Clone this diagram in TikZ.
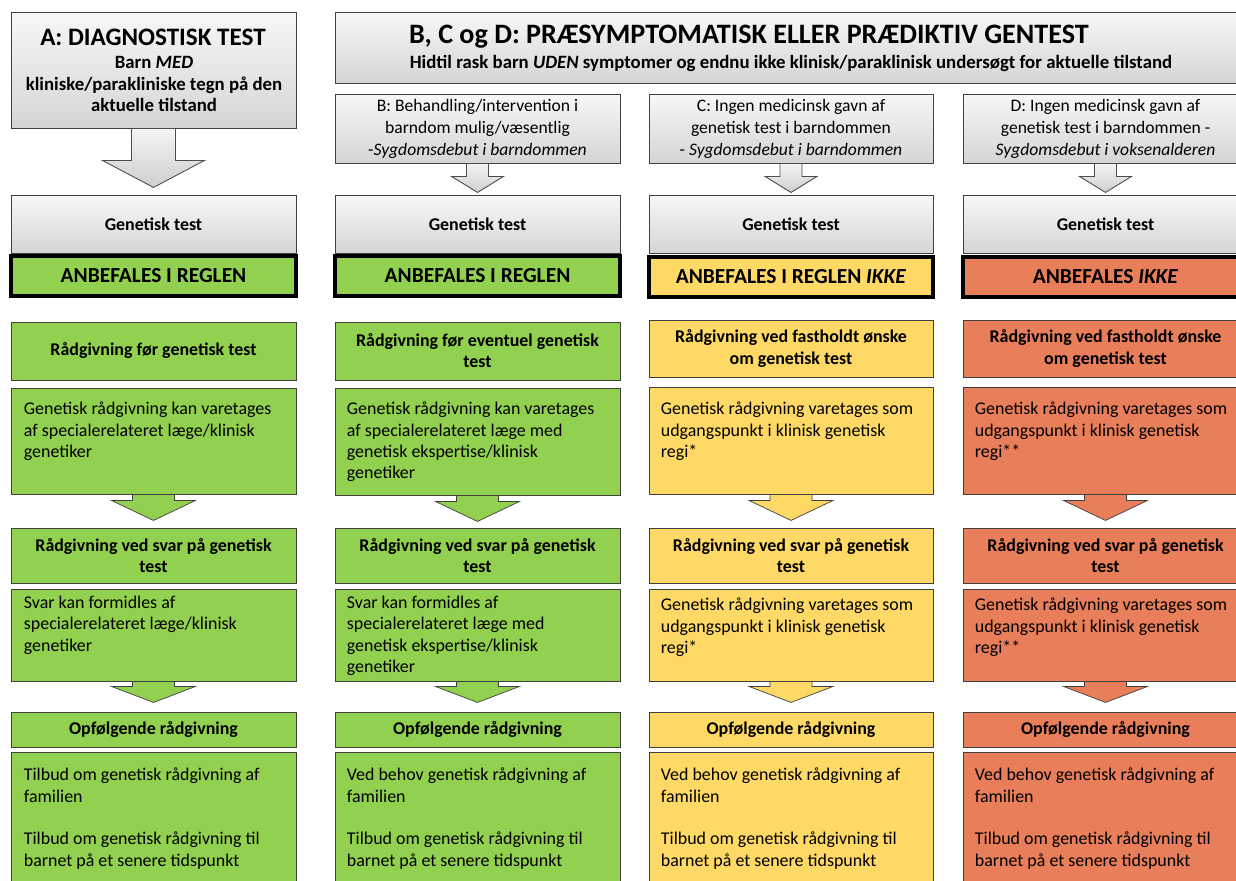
\documentclass[tikz,border=0pt]{standalone}
\usepackage{fontspec}
\setmainfont{Carlito}
\usetikzlibrary{fit,calc}

\definecolor{okgreen}{HTML}{92D050}
\definecolor{midyellow}{HTML}{FFD966}
\definecolor{nored}{HTML}{E97E5B}
\definecolor{edge}{HTML}{404040}

% down block arrow: style, top point, half shaft, shaft length, half head, head length
\newcommand{\blockarrow}[6]{%
  \draw[#1] (#2) ++(-#3,0) -- ++(0,#4) -- ++({#3-#5},0) -- ++(#5,#6)
    -- ++(#5,-#6) -- ++({#3-#5},0) -- ++(0,-#4) -- cycle;}

\begin{document}
\begin{tikzpicture}[x=0.2mm, y=-0.2mm,
  graybox/.style={draw=edge, line width=0.5pt, top color=gray!6, bottom color=gray!33, inner sep=0pt},
  cell/.style={draw=edge, line width=0.5pt, inner sep=0pt},
  recbox/.style={draw=black, line width=2pt, inner sep=0pt},
  rectxt/.style={font=\fontsize{12.2}{14}\selectfont\bfseries},
  titletxt/.style={inner sep=0pt, font=\fontsize{#1}{18}\selectfont\bfseries},
  introtxt/.style={inner sep=0pt, align=center, font=\fontsize{10.7}{12.5}\selectfont\bfseries},
  leadtxt/.style={inner sep=0pt, font=\fontsize{10.7}{12.5}\selectfont\bfseries},
  casetxt/.style={align=center, font=\fontsize{10}{12.5}\selectfont},
  hdrtxt/.style={align=center, font=\fontsize{10.2}{12}\selectfont\bfseries},
  bodytxt/.style={anchor=north west, inner sep=0pt, align=left, font=\fontsize{10.2}{12.2}\selectfont},
  grayarrow/.style={draw=gray!60!black, line width=0.5pt, top color=gray!8, bottom color=gray!38},
  colarrow/.style={draw=edge, line width=0.4pt, fill=#1},
]
  \useasboundingbox (0,0) rectangle (1236,880);
  \clip (0,0) rectangle (1236,880);
  \fill[white] (0,0) rectangle (1236,880);

  % A: diagnostic test
  \node[graybox, fit={(11,12)(296,128)}] (topA) {};
  \node[titletxt=14.3] (topA-t) at (153,37) {A: DIAGNOSTISK TEST};
  \node[introtxt] (topA-s) at (154,84) {Barn \textit{MED}\\kliniske/parakliniske tegn på den\\aktuelle tilstand};
  \blockarrow{grayarrow}{topA.south}{22}{32}{51}{27}

  % B, C, D: presymptomatic test
  \node[graybox, fit={(335,12)(1248,83)}] (topBCD) {};
  \node[titletxt=16] (topBCD-t) at (749,37) {B, C og D: PRÆSYMPTOMATISK ELLER PRÆDIKTIV GENTEST};
  \node[leadtxt] (topBCD-s) at (791,63) {Hidtil rask barn \textit{UDEN} symptomer og endnu ikke klinisk/paraklinisk undersøgt for aktuelle tilstand};

  \node[graybox, fit={(335,94)(620,163)}, label={[casetxt]center:{B: Behandling/intervention i\\barndom mulig/væsentlig\\-\textit{Sygdomsdebut i barndommen}}}] (subB) {};
  \node[graybox, fit={(649,94)(933,163)}, label={[casetxt]center:{C: Ingen medicinsk gavn af\\genetisk test i barndommen\\- \textit{Sygdomsdebut i barndommen}}}] (subC) {};
  \node[graybox, fit={(963,94)(1248,163)}, label={[casetxt]center:{D: Ingen medicinsk gavn af\\genetisk test i barndommen -\\\textit{Sygdomsdebut i voksenalderen}}}] (subD) {};
  \foreach \c in {B,C,D} {
    \blockarrow{grayarrow}{sub\c.south}{11}{13}{26}{16}
  }

  % Genetisk test, same in all columns
  \foreach \c/\xl/\xr in {A/11/296, B/335/620, C/649/933, D/963/1248} {
    \node[graybox, fit={(\xl,195)(\xr,253)}, label={[hdrtxt]center:Genetisk test}] (gt\c) {};
  }

  % Recommendation
  \node[recbox, fill=okgreen, fit={(11,256)(296,296)}, label={[rectxt]center:ANBEFALES I REGLEN}] (recA) {};
  \node[recbox, fill=okgreen, fit={(335,256)(620,296)}, label={[rectxt]center:ANBEFALES I REGLEN}] (recB) {};
  \node[recbox, fill=midyellow, fit={(649,257)(933,297)}, label={[rectxt]center:{ANBEFALES I REGLEN \textit{IKKE}}}] (recC) {};
  \node[recbox, fill=nored, fit={(963,257)(1248,297)}, label={[rectxt]center:{ANBEFALES \textit{IKKE}}}] (recD) {};

  % Counselling before the test
  \node[cell, fill=okgreen, fit={(11,322)(296,380)}, label={[hdrtxt]center:Rådgivning før genetisk test}] (h1A) {};
  \node[cell, fill=okgreen, fit={(335,322)(620,380)}, label={[hdrtxt]center:{Rådgivning før eventuel genetisk\\test}}] (h1B) {};
  \node[cell, fill=midyellow, fit={(649,320)(933,377)}, label={[hdrtxt]center:{Rådgivning ved fastholdt ønske\\om genetisk test}}] (h1C) {};
  \node[cell, fill=nored, fit={(963,320)(1248,377)}, label={[hdrtxt]center:{Rådgivning ved fastholdt ønske\\om genetisk test}}] (h1D) {};

  \node[cell, fill=okgreen, fit={(11,388)(296,494)}] (b1A) {};
  \node[cell, fill=okgreen, fit={(335,388)(620,495)}] (b1B) {};
  \node[cell, fill=midyellow, fit={(649,387)(933,494)}] (b1C) {};
  \node[cell, fill=nored, fit={(963,387)(1248,494)}] (b1D) {};
  \node[bodytxt] (b1A-t) at ($(b1A.north west)+(13,14)$) {Genetisk rådgivning kan varetages\\af specialerelateret læge/klinisk\\genetiker};
  \node[bodytxt] (b1B-t) at ($(b1B.north west)+(12,14)$) {Genetisk rådgivning kan varetages\\af specialerelateret læge med\\genetisk ekspertise/klinisk\\genetiker};
  \node[bodytxt] (b1C-t) at ($(b1C.north west)+(12,15)$) {Genetisk rådgivning varetages som\\udgangspunkt i klinisk genetisk\\regi*};
  \node[bodytxt] (b1D-t) at ($(b1D.north west)+(12,15)$) {Genetisk rådgivning varetages som\\udgangspunkt i klinisk genetisk\\regi**};
  \foreach \c/\col in {A/okgreen, B/okgreen, C/midyellow, D/nored} {
    \blockarrow{colarrow=\col}{b1\c.south}{21}{6}{42}{20}
  }

  % Counselling on the answer
  \foreach \c/\xl/\xr/\col in {A/11/296/okgreen, B/335/620/okgreen, C/649/933/midyellow, D/963/1248/nored} {
    \node[cell, fill=\col, fit={(\xl,528)(\xr,583)}, label={[hdrtxt]center:{Rådgivning ved svar på genetisk\\test}}] (h2\c) {};
  }

  \node[cell, fill=okgreen, fit={(11,589)(296,681)}] (b2A) {};
  \node[cell, fill=okgreen, fit={(335,589)(620,681)}] (b2B) {};
  \node[cell, fill=midyellow, fit={(649,589)(933,681)}] (b2C) {};
  \node[cell, fill=nored, fit={(963,589)(1248,681)}] (b2D) {};
  \node[bodytxt] (b2A-t) at ($(b2A.north west)+(13,7)$) {Svar kan formidles af\\specialerelateret læge/klinisk\\genetiker};
  \node[bodytxt] (b2B-t) at ($(b2B.north west)+(12,7)$) {Svar kan formidles af\\specialerelateret læge med\\genetisk ekspertise/klinisk\\genetiker};
  \node[bodytxt] (b2C-t) at ($(b2C.north west)+(12,9)$) {Genetisk rådgivning varetages som\\udgangspunkt i klinisk genetisk\\regi*};
  \node[bodytxt] (b2D-t) at ($(b2D.north west)+(12,9)$) {Genetisk rådgivning varetages som\\udgangspunkt i klinisk genetisk\\regi**};
  \foreach \c/\col in {A/okgreen, B/okgreen, C/midyellow, D/nored} {
    \blockarrow{colarrow=\col}{b2\c.south}{21}{5}{42}{16}
  }

  % Follow-up counselling
  \foreach \c/\xl/\xr/\col in {A/11/296/okgreen, B/335/620/okgreen, C/649/933/midyellow, D/963/1248/nored} {
    \node[cell, fill=\col, fit={(\xl,712)(\xr,747)}, label={[hdrtxt]center:Opfølgende rådgivning}] (h3\c) {};
    \node[cell, fill=\col, fit={(\xl,752)(\xr,900)}] (b3\c) {};
  }
  \node[bodytxt] (b3A-t) at ($(b3A.north west)+(13,16)$) {Tilbud om genetisk rådgivning af\\familien\\[12.2pt]Tilbud om genetisk rådgivning til\\barnet på et senere tidspunkt};
  \foreach \c in {B,C,D} {
    \node[bodytxt] (b3\c-t) at ($(b3\c.north west)+(12,16)$) {Ved behov genetisk rådgivning af\\familien\\[12.2pt]Tilbud om genetisk rådgivning til\\barnet på et senere tidspunkt};
  }
\end{tikzpicture}
\end{document}
